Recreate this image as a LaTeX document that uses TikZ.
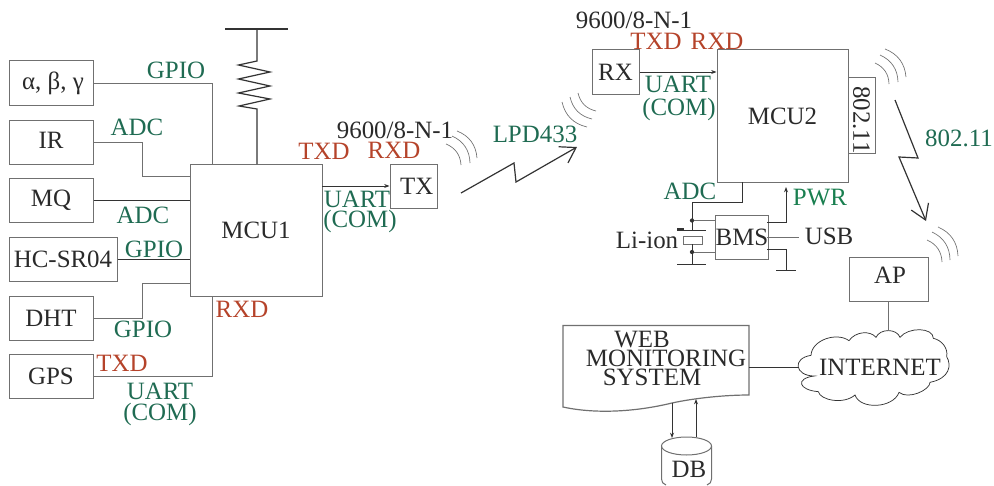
\documentclass[tikz,border=0pt]{standalone}
\usepackage{fontspec}
\setmainfont{Liberation Serif}
\usetikzlibrary{arrows.meta}
\definecolor{gtxt}{HTML}{1F6B52}
\definecolor{gbright}{HTML}{1A7F50}
\definecolor{rtxt}{HTML}{B5432A}
\definecolor{ktxt}{HTML}{2A2A2A}
\definecolor{lgray}{HTML}{707070}
\definecolor{ldark}{HTML}{333333}
\tikzset{
  every node/.style={font=\fontsize{18.7}{20}\selectfont,text=ktxt,inner sep=0pt},
  bx/.style 2 args={draw=lgray,line width=0.75pt,minimum width=#1*0.75pt,minimum height=#2*0.75pt},
  gl/.style={text=gtxt},
  rl/.style={text=rtxt},
  wire/.style={draw=lgray,line width=0.75pt},
  dwire/.style={draw=ldark,line width=0.65pt},
  thin arrow/.style={draw=ldark,line width=0.65pt,-{Stealth[length=4pt,width=3pt]}},
  bolt/.style={draw=ldark,line width=0.9pt,line join=miter,-{Straight Barb[length=11pt,width=14pt,line width=0.9pt]}},
  wave/.style={draw=lgray,line width=0.5pt},
  dot/.style={circle,fill=ldark,minimum size=3.2pt},
}
\begin{document}
\begin{tikzpicture}[x=0.75pt,y=-0.75pt]
\useasboundingbox (0,0) rectangle (994,485);
% left boxes
\node[bx={84}{44}] (abg) at (51,83) {$\,$α, β, γ};
\node[bx={84}{44}] (ir) at (51,142) {\raisebox{2pt}{IR}};
\node[bx={84}{44}] (mq) at (51,200) {MQ};
\node[bx={108}{44}] (hc) at (63,259) {HC-SR04\hspace{8pt}};
\node[bx={84}{44}] (dht) at (51,318) {DHT};
\node[bx={84}{44}] (gps) at (51,376) {GPS};
\node[bx={132}{132}] (mcua) at (256,230) {MCU1};
\node[bx={47}{44}] (tx) at (413.5,186) {\hspace{5pt}TX};
\node[bx={47}{44}] (rx) at (615.5,72) {RX};
\node[bx={131}{132}] (mcub) at (782.5,116) {MCU2};
\node[bx={27}{75}] (wifi) at (861.5,115.5) {\rotatebox{-90}{\hspace{7pt}802.11}};
\node[bx={50}{44}] (bms) at (742,237) {BMS};
\node[bx={79}{44}] (ap) at (888.5,279) {};
\node (aplab) at (890,275) {AP};
% left wiring
\coordinate (mcuaA) at (212,164);
\coordinate (mcuaB) at (190,176);
\coordinate (mcuaC) at (190,283);
\coordinate (mcuaD) at (212,296);
\coordinate (mcuaE) at (257,164);
\draw[wire] (abg.east) -- (mcuaA |- abg.east) -- (mcuaA);
\draw[wire] (ir.east) -- (142,142) -- (142,176) -- (mcuaB);
\draw[dwire] (mq.east) -- (mq.east -| mcua.west);
\draw[dwire] (hc.east) -- (hc.east -| mcua.west);
\draw[wire] (dht.east) -- (142,318) -- (142,283) -- (mcuaC);
\draw[wire] (gps.east) -- (mcuaD |- gps.east) -- (mcuaD);
% pull-up
\coordinate (vcc) at (257,29);
\draw[draw=ldark,line width=1pt] (225,29) -- (288,29);
\draw[draw=ldark,line width=0.9pt] (vcc) -- (257,61) -- (238.5,65) -- (270,72) -- (238.5,79) -- (270,86) -- (238.5,93) -- (270,99) -- (239,106) -- (257,109) -- (mcuaE);
\draw[thin arrow] (322,186) -- (tx.west);
\draw[thin arrow] (rx.east |- 0,72) -- (mcub.west |- 0,72);
% left labels
\node[gl] (l1) at (176,70) {GPIO};
\node[gl] (l2) at (137,127) {ADC};
\node[gl] (l3) at (143,215) {ADC};
\node[gl] (l4) at (154,249) {GPIO};
\node[gl] (l5) at (143,329) {GPIO};
\node[rl] (l6) at (242,309) {RXD};
\node[rl] (l7) at (122,363) {TXD};
\node[gl] (l8) at (160,391) {UART};
\node[gl] (l9) at (160,414) {(COM)};
\node (l10) at (395,130) {9600/8-N-1};
\node[rl] (l11) at (324,151) {TXD};
\node[rl] (l12) at (394,150) {RXD};
\node[gl] (l13) at (357,199) {UART};
\node[gl] (l14) at (360,222) {(COM)};
\node[gl] (l15) at (535,134) {LPD433};
% waves
\draw[wave] (457,131) to[bend left=32] (477,158) (452,136) to[bend left=32] (470,163) (446,144) to[bend left=32] (461,165);
\draw[wave] (562,102) to[bend right=32] (587,127) (570,97) to[bend right=32] (592,119) (578,93) to[bend right=32] (596,111);
\draw[wave] (885,49) to[bend left=32] (906,77) (880,55) to[bend left=32] (898,82) (875,63) to[bend left=32] (889,84);
\draw[wave] (938,227) to[bend left=32] (958,256) (932,232) to[bend left=32] (950,260) (927,240) to[bend left=32] (942,262);
% radio links
\draw[bolt] (461,193) -- (514,163) -- (516,182) -- (577,147);
\draw[bolt] (895,100) -- (918,158) -- (899,157) -- (926,221);
% right labels
\node (r1) at (634,20) {9600/8-N-1};
\node[rl] (r2) at (656,41) {TXD};
\node[rl] (r3) at (717,41) {RXD};
\node[gl] (r4) at (678,84) {UART};
\node[gl] (r5) at (679,110) {(COM)};
\node[gl] (r6) at (959,138) {802.11};
\node[gl] (r7) at (690,191) {ADC};
\node[text=gbright] (r8) at (820,198) {PWR};
\node (r9) at (647,240) {Li-ion};
\node (r10) at (829,236) {USB};
% BMS / battery
\coordinate (adcT) at (742,182);
\coordinate (batT) at (692,230);
\coordinate (batB) at (692,244);
\coordinate (gndA) at (692,264);
\coordinate (gndB) at (786,270);
\coordinate (usbE) at (799,237);
\coordinate (pwrT) at (786,187);
\node[dot] (d1) at (692,220.5) {};
\node[dot] (d2) at (692,252) {};
\draw[dwire] (adcT) -- (742,202) -- (692,202) -- (batT);
\draw[wire] (d1) -- (d1 -| bms.west);
\draw[wire] (d2) -- (d2 -| bms.west);
\draw[dwire] (677,230) -- (706,230);
\draw[draw=ldark,line width=1.1pt] (677,229) -- (684,229);
\node[bx={19}{8}] (cell) at (692.5,240) {};
\draw[dwire] (batB) -- (gndA);
\draw[dwire] (677,264) -- (706,264);
\draw[thin arrow] (767,222) -- (786,222) -- (pwrT);
\draw[wire] (767,237) -- (usbE);
\draw[dwire] (767,249) -- (786,249) -- (gndB);
\draw[dwire] (776,270) -- (796,270);
% web monitoring doc
\coordinate (webR) at (749,367);
\coordinate (dbA) at (672,438);
\coordinate (dbB) at (696,437);
\draw[draw=lgray,line width=0.9pt] (563,325.5) -- (749,325.5) -- (749,395) .. controls (725,395) and (695,398) .. (672,403) .. controls (635,412) and (595,414) .. (563,407) -- cycle;
\node (w1) at (642,340) {WEB};
\node (w2) at (666,358) {MONITORING};
\node (w3) at (652,377) {SYSTEM};
\draw[thin arrow] (672,403) -- (dbA);
\draw[thin arrow] (dbB) -- (696,399);
% database
\draw[draw=lgray,line width=0.75pt] (686.5,446) ellipse [x radius=25,y radius=9];
\draw[draw=lgray,line width=0.75pt] (661.5,446) -- (661.5,479) .. controls (661.5,482) and (663,484) .. (666,485);
\draw[draw=lgray,line width=0.75pt] (711.5,446) -- (711.5,479) .. controls (711.5,482) and (710,484) .. (707,485);
\node (db) at (689,469) {DB};
% cloud
\begin{scope}[shift={(550,250)},x=0.25pt,y=-0.25pt]
\draw[draw=ldark,line width=0.55pt] (783,316) .. controls (785,270) and (860,245) .. (897,272)
 .. controls (915,245) and (960,240) .. (978,262)
 .. controls (990,235) and (1040,235) .. (1050,262)
 .. controls (1075,230) and (1150,232) .. (1150,265)
 .. controls (1175,270) and (1195,295) .. (1190,320)
 .. controls (1205,345) and (1200,385) .. (1140,397)
 .. controls (1140,420) and (1075,450) .. (1047,427)
 .. controls (1030,475) and (930,480) .. (915,435)
 .. controls (880,465) and (810,450) .. (805,425)
 .. controls (745,420) and (735,385) .. (793,378)
 .. controls (735,378) and (725,325) .. (783,316) -- cycle;
\coordinate (cloudT) at (1018,243);
\coordinate (cloudL) at (748,351);
\end{scope}
\node (net) at (880,367) {INTERNET};
\draw[wire] (ap.south) -- (ap.south |- cloudT);
\draw[dwire] (webR) -- (webR -| cloudL);
\end{tikzpicture}
\end{document}
